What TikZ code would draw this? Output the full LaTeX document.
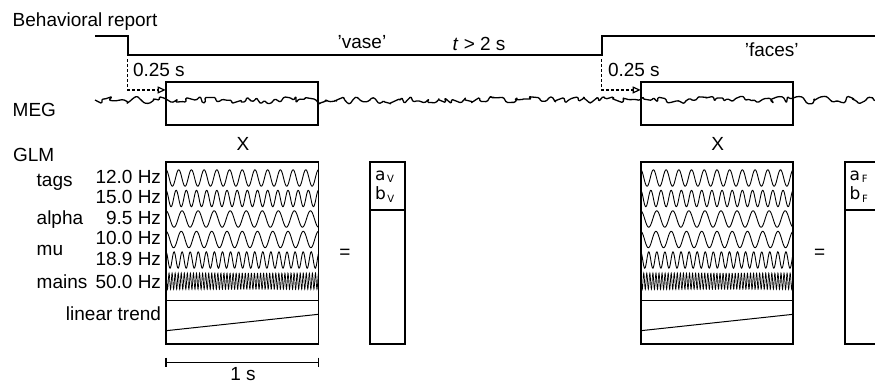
\documentclass[tikz,border=0pt]{standalone}
\usepackage{fontspec}
\setmainfont{Liberation Sans}
\newfontfamily\dejavu{DejaVu Sans}
\usetikzlibrary{arrows.meta,decorations.pathmorphing}
\begin{document}
\begin{tikzpicture}[x=1pt,y=-1pt,
  every node/.style={inner sep=0pt,outer sep=0pt},
  lbl/.style={font=\fontsize{19}{21}\selectfont},
  stepline/.style={line width=1.6pt},
  dasharrow/.style={line width=1.2pt,dash pattern=on 3pt off 2pt,-{Triangle[open,length=8pt,width=7pt]}},
  megbox/.style={draw,line width=1.8pt,minimum width=152.6pt,minimum height=43.3pt},
  matbox/.style={draw,line width=1.8pt,minimum width=152.5pt,minimum height=182.3pt},
  betabox/.style={draw,line width=1.8pt,minimum width=35pt,minimum height=182.3pt},
  wave/.style={line width=0.9pt},
  thinline/.style={line width=1pt},
  coef/.style={font=\dejavu\fontsize{17}{18}\selectfont},
]
\useasboundingbox (0,0) rectangle (875,383);
\clip (0,0) rectangle (875,383);

% behavioural report
\node[lbl,anchor=base west] (br) at (12.7,26) {Behavioral report};
\coordinate (s0) at (95,35.7);
\coordinate (s1) at (127.7,55);
\coordinate (s2) at (601.7,55);
\coordinate (s3) at (880,35.7);
\draw[stepline] (s0) -| (s1) -- (s2) |- (s3);
\node[lbl,anchor=base] (vase) at (362,48) {'vase'};
\node[lbl,anchor=base] (tgt) at (479,50) {\textit{t} > 2 s};
\node[lbl,anchor=base] (faces) at (771.7,56) {'faces'};

% MEG
\node[lbl,anchor=base west] (meg) at (12.7,116.7) {MEG};
\pgfmathsetseed{4711}
\draw[line width=1.3pt,line join=round,rounded corners=1.2pt,decorate,decoration={random steps,segment length=3.5pt,amplitude=4pt}] (95,100) -- (880,100);
\node[megbox] (m1) at (242,103.3) {};
\node[megbox] (m2) at (717,103.3) {};
\draw[dasharrow,shorten <=4pt] (s1) |- ([yshift=-8.3pt]m1.north west);
\draw[dasharrow,shorten <=4pt] (s2) |- ([yshift=-8.3pt]m2.north west);
\node[lbl,anchor=base west] (d1) at (133,76.7) {0.25 s};
\node[lbl,anchor=base west] (d2) at (608,76.7) {0.25 s};

% GLM
\node[lbl,anchor=base west] (glm) at (13,161.7) {GLM};

\foreach \px/\sub/\pn in {166/V/p1,640.7/F/p2}{
\begin{scope}[shift={(\px,0)}]
  \node[font=\fontsize{19}{20}\selectfont] (\pn-x) at (77,143.5) {X};
  \node[matbox] (\pn-mat) at (76.25,253) {};
  \foreach \f/\c in {12/178,15/198.5,9.5/219,10/239.5,18.9/260}{
    \draw[wave] plot[domain=0:1,samples=300] ({152.5*\x},{\c-8.2*cos(360*\f*\x)});
  }
  \draw[wave,line width=0.7pt] plot[domain=0:50,samples=700] ({152.5*\x/50},{281.2-8.2*cos(360*(\x-floor(\x)))});
  \draw[thinline] (0,300) -- (152.5,300);
  \draw[thinline] (0,330.7) -- (152.5,314.3);
  \node[matbox] at (76.25,253) {};
  \node[lbl] (\pn-eq) at (179,254) {=};
  \node[betabox] (\pn-beta) at (221.5,253) {};
  \draw[line width=1.8pt] (\pn-beta.west |- 0,210) -- (\pn-beta.east |- 0,210);
  \node[coef,anchor=base west] (\pn-a) at (209,180) {a\raisebox{-0.3ex}{\fontsize{10}{11}\selectfont\,\sub}};
  \node[coef,anchor=base west] (\pn-b) at (209,199.5) {b\raisebox{-0.3ex}{\fontsize{10}{11}\selectfont\,\sub}};
\end{scope}
}

% row labels
\foreach \t/\y [count=\i] in {12.0 Hz/183.3,15.0 Hz/203.8,9.5 Hz/224.3,10.0 Hz/244.8,18.9 Hz/265.8,50.0 Hz/288.3,linear trend/320.7}{
  \node[lbl,anchor=base east] (r\i) at (161,\y) {\t};
}
\node[lbl,anchor=base west] (tags) at (36.7,186.7) {tags};
\node[lbl,anchor=base west] (alpha) at (36.7,224.3) {alpha};
\node[lbl,anchor=base west] (mu) at (36.7,255) {mu};
\node[lbl,anchor=base west] (mains) at (36.7,288.3) {mains};

% scale bar
\coordinate (sb1) at (166,362.3);
\coordinate (sb2) at (318.3,362.3);
\draw[line width=1.6pt] (sb1) -- (sb2);
\draw[line width=1.6pt] ([yshift=4.8pt]sb1) -- ([yshift=-4.8pt]sb1);
\draw[line width=1.6pt] ([yshift=4.8pt]sb2) -- ([yshift=-4.8pt]sb2);
\node[lbl,anchor=base] (onesec) at (243,380.5) {1 s};
\end{tikzpicture}
\end{document}
